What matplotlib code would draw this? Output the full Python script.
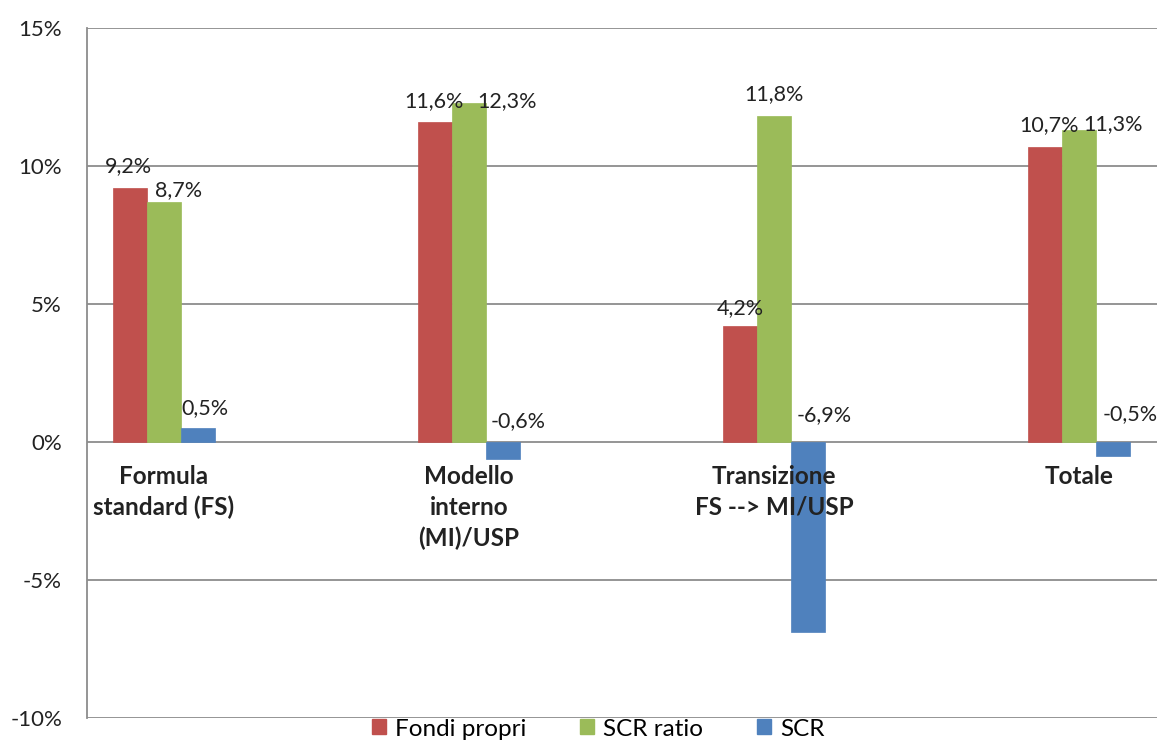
import matplotlib
matplotlib.use("Agg")
import matplotlib.pyplot as plt
import numpy as np
from matplotlib.patches import Patch

categories = ["Formula\nstandard (FS)", "Modello\ninterno\n(MI)/USP", "Transizione\nFS --> MI/USP", "Totale"]
series_names = ["Fondi propri", "SCR ratio", "SCR"]
fondi_propri = [9.2, 11.6, 4.2, 10.7]
scr_ratio = [8.7, 12.3, 11.8, 11.3]
scr = [0.5, -0.6, -6.9, -0.5]
yticks = [-10, -5, 0, 5, 10, 15]
ytick_labels = ["-10%", "-5%", "0%", "5%", "10%", "15%"]

colors = ["#C0504D", "#9BBB59", "#4F81BD"]
# label offsets in pixels (dx, dy) relative to bar end (positive) or zero (negative)
label_offsets = [
    [(-2, 22), (-1, 21), (0, 18), (4, 22)],
    [(15, 12), (38, 1), (0, 22), (34, 6)],
    [(7, 20), (15, 21), (16, 27), (17, 28)],
]

plt.rcParams['font.family'] = ['Lato', 'DejaVu Sans']

fig = plt.figure(figsize=(11.6, 7.42), dpi=100)
ax = fig.add_axes([87/1160, 1-718/742, (1157-87)/1160, (718-28)/742])

x = np.arange(len(categories))
w = 34/305
data = [fondi_propri, scr_ratio, scr]
for k, (vals, col) in enumerate(zip(data, colors)):
    xs = x + (k-1)*w
    ax.bar(xs, vals, width=w, color=col, edgecolor=col, linewidth=0.5, zorder=3)
    for i, v in enumerate(vals):
        anchor_y = v if v >= 0 else 0
        dx, dy = label_offsets[k][i]
        ax.annotate(f"{v:.1f}%".replace(".", ","), xy=(xs[i], anchor_y),
                    xytext=(dx, dy), textcoords='offset pixels',
                    ha='center', va='center', fontsize=15.5, color='#222222', zorder=4)

ax.set_xlim(-77/305, (1157-164)/305)
ax.set_ylim(-10, 15)
ax.set_yticks(yticks)
ax.set_yticklabels(ytick_labels, fontsize=16, color='#222222')
ax.set_xticks([])
ax.tick_params(axis='y', length=0, pad=18)
ax.grid(axis='y', color='#8c8c8c', linewidth=1.3, zorder=1)
for s in ['top', 'right', 'bottom']:
    ax.spines[s].set_visible(False)
ax.spines['left'].set_color('#8c8c8c')
ax.spines['left'].set_linewidth(1.3)

for i, c in enumerate(categories):
    ax.annotate(c, xy=(x[i], 0), xytext=(0, -23), textcoords='offset pixels',
                ha='center', va='top', fontsize=17.5, fontweight='bold',
                color='#222222', linespacing=1.4, multialignment='center')

handles = [Patch(facecolor=c, edgecolor=c) for c in colors]
fig.legend(handles, series_names, loc='center', bbox_to_anchor=(598/1160, 1-729/742),
           ncol=3, frameon=False, fontsize=17.5, handlelength=0.58, handleheight=0.58,
           handletextpad=0.38, columnspacing=2.2, borderpad=0)

fig.savefig("out.png", dpi=100)
